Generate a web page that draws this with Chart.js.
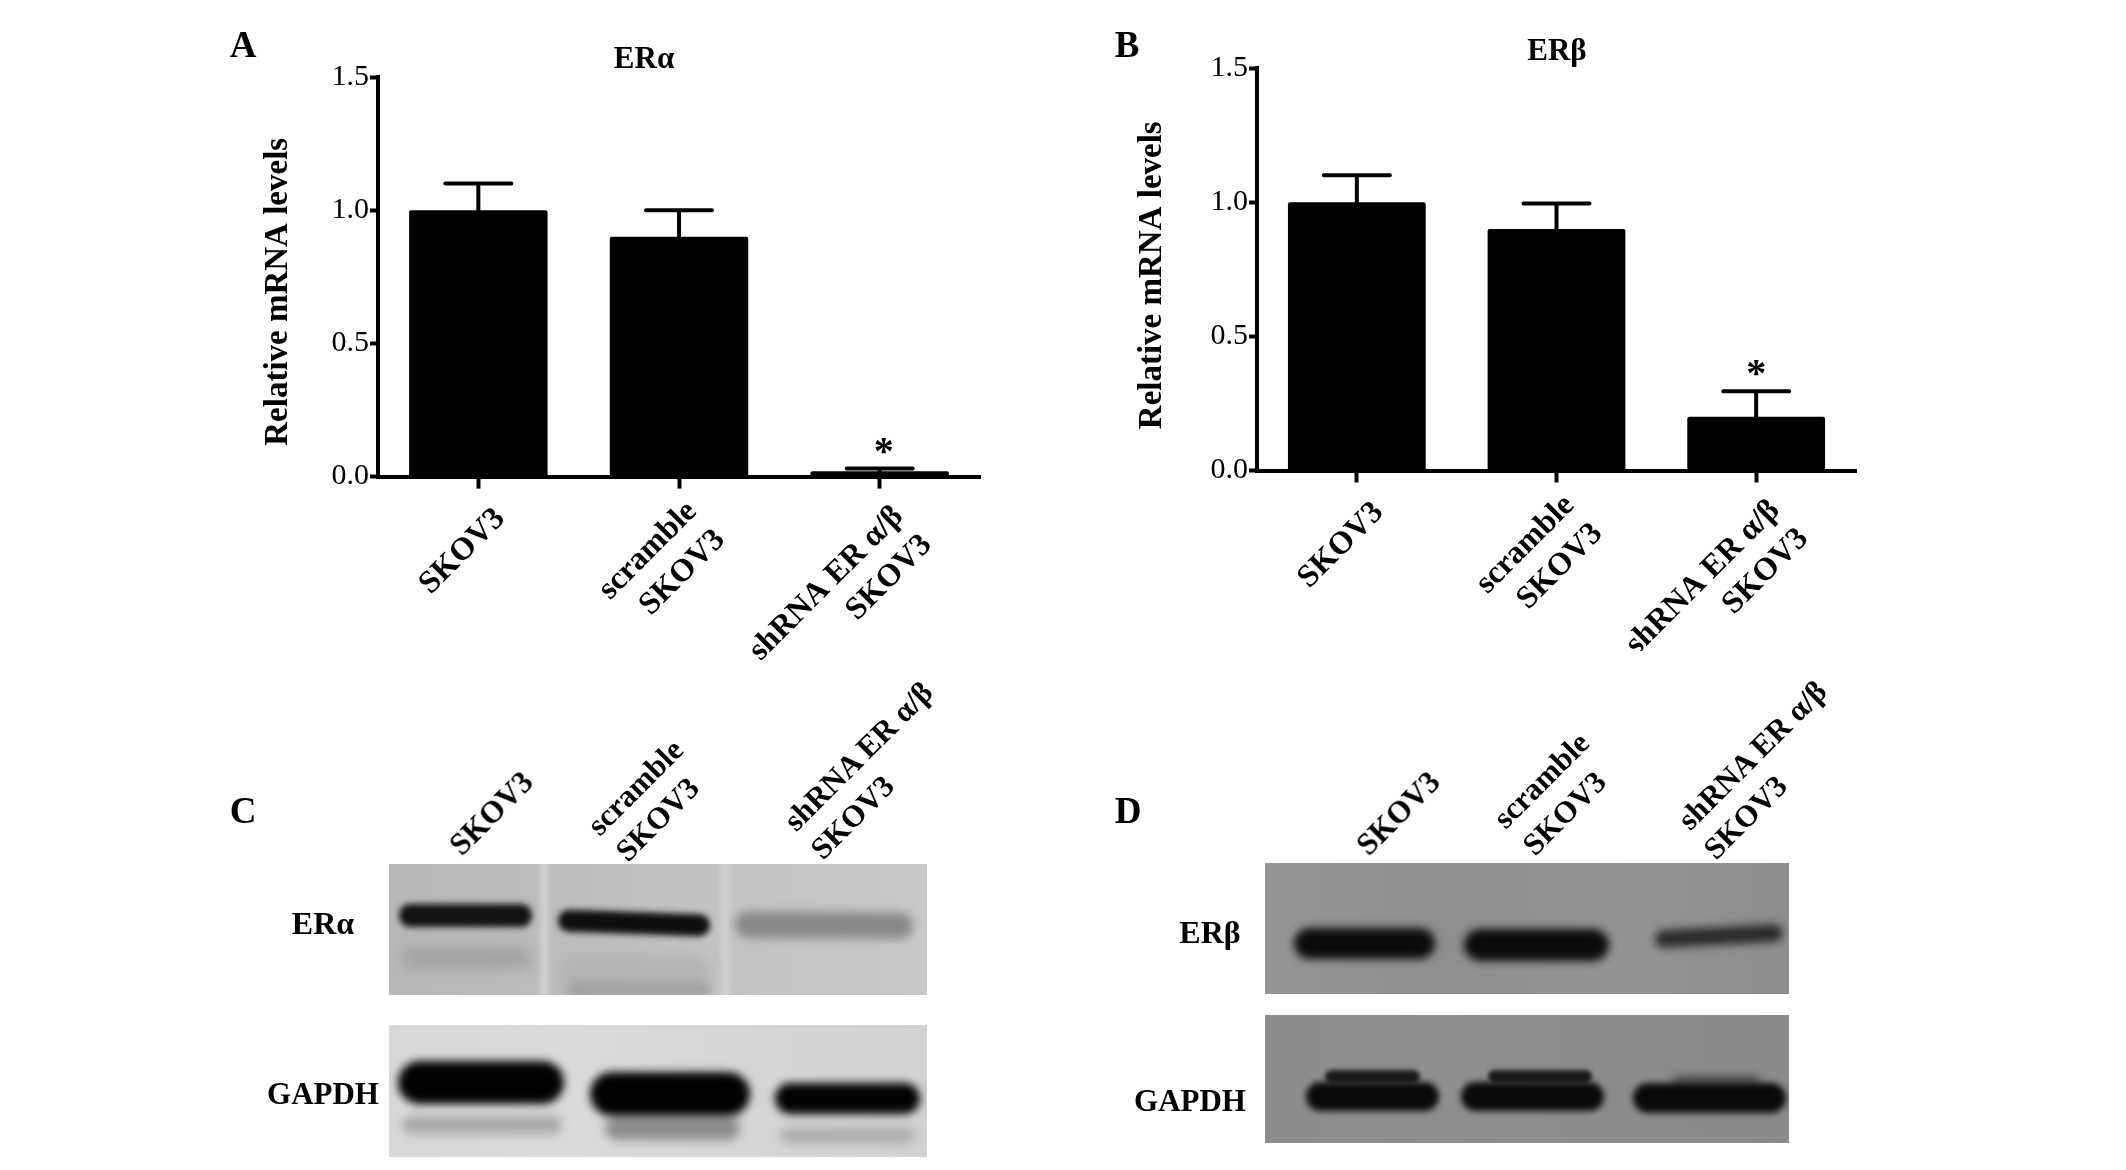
<!DOCTYPE html>
<html><head><meta charset="utf-8">
<script src="https://cdn.jsdelivr.net/npm/chart.js@4"></script>
<style>
html,body{margin:0;padding:0;background:#fff;width:2126px;height:1170px;overflow:hidden}
#page{position:relative;width:2126px;height:1170px;filter:blur(.55px)}
canvas{position:absolute;display:block}
.t{position:absolute;font-family:"Liberation Serif",serif;font-weight:bold;color:#000;white-space:nowrap;transform:translate(-50%,-50%);line-height:1}
.r{transform:translate(-50%,-50%) rotate(-45deg)}
</style></head><body>
<div id="page">
<canvas id="blots" width="2126" height="1170" style="left:0;top:0"></canvas>
<canvas id="chartA" style="left:240px;top:20px"></canvas>
<canvas id="chartB" style="left:1114px;top:11px"></canvas>
</div>
<script>
const categories=[["SKOV3"],["scramble","SKOV3"],["shRNA ER α/β","SKOV3"]];
const alphaValues=[1.0,0.9,0.02];
const alphaUpper=[1.1,1.0,0.03];
const alphaMarks=["","","*"];
const betaValues=[1.0,0.9,0.2];
const betaUpper=[1.1,0.995,0.295];
const betaMarks=["","","*"];
const yTickValues=[0,0.5,1.0,1.5];
const yAxisTitle="Relative mRNA levels";
const titleA="ERα", titleB="ERβ";

const SERIF='"Liberation Serif",serif';
const errorBars={id:'errorBars',afterDatasetsDraw(c,a,o){
  const x=c.scales.x,y=c.scales.y,g=c.ctx;g.save();g.strokeStyle='#000';g.fillStyle='#000';g.lineWidth=4;g.lineCap='round';
  o.upper.forEach((u,i)=>{const px=x.getPixelForValue(i),t=y.getPixelForValue(o.values[i]),e=y.getPixelForValue(u);
    g.beginPath();g.moveTo(px,t);g.lineTo(px,e);g.moveTo(px-33,e);g.lineTo(px+33,e);g.stroke();
    if(o.marks[i]){g.font='bold 40px '+SERIF;g.textAlign='center';g.textBaseline='alphabetic';g.fillText(o.marks[i],px+o.markDx,e-5);}
  });g.restore();}};
const nudgeLabels={id:'nudgeLabels',beforeDraw(c,a,o){
  const s=c.scales.x;if(s.$nudged)return;s.$nudged=true;
  s.getLabelItems().forEach((it,i)=>{it.options.translation[0]+=o.dx[i];it.options.translation[1]+=o.dy[i];});}};
function shiftTitle(dy){return s=>{if(s.$w)return;s.$w=1;const f=s.drawTitle;s.drawTitle=function(){const t=s.top,b=s.bottom;s.top+=dy;s.bottom+=dy;f.call(s);s.top=t;s.bottom=b;};};}

function make(id,w,h,pad,yw,xh,vals,upper,marks,titleDy,markDx){
  const cv=document.getElementById(id);cv.width=w;cv.height=h;cv.style.width=w+'px';cv.style.height=h+'px';
  new Chart(cv,{type:'bar',data:{labels:categories,datasets:[{data:vals,backgroundColor:'#000',borderColor:'#000',borderWidth:0,barPercentage:.69,categoryPercentage:1,borderRadius:2,borderSkipped:'bottom'}]},
    options:{responsive:false,animation:false,devicePixelRatio:1,layout:{padding:pad},
      plugins:{legend:{display:false},tooltip:{enabled:false},title:{display:false},
        errorBars:{values:vals,upper,marks,markDx},nudgeLabels:{dx:[22,13,19],dy:[9,2,7]}},
      scales:{
        x:{type:'category',afterFit:s=>{s.height=xh;},
          grid:{offset:false,drawOnChartArea:false,drawTicks:true,tickLength:12,tickWidth:4,tickColor:'#000'},
          border:{display:true,color:'#000',width:4},
          ticks:{color:'#000',autoSkip:false,minRotation:45,maxRotation:45,padding:2,font:{family:SERIF,size:32,weight:'bold',lineHeight:1.25}}},
        y:{min:0,max:1.5,afterFit:s=>{s.width=yw;},afterUpdate:shiftTitle(titleDy),
          afterBuildTicks:s=>{s.ticks=yTickValues.map(v=>({value:v}));},
          grid:{drawOnChartArea:false,drawTicks:true,tickLength:8,tickWidth:4,tickColor:'#000'},
          border:{display:true,color:'#000',width:4},
          title:{display:true,text:yAxisTitle,color:'#000',font:{family:SERIF,size:33,weight:'bold',lineHeight:1.2},padding:{top:19,bottom:0}},
          ticks:{color:'#000',padding:1,font:{family:SERIF,size:30},callback:v=>Number(v).toFixed(1)}}
      }},plugins:[errorBars,nudgeLabels]});
}
make('chartA',760,640,{top:57,right:20,left:0,bottom:0},138,183.4,alphaValues,alphaUpper,alphaMarks,15,4);
make('chartB',762,640,{top:57,right:20,left:0,bottom:0},143,180.5,betaValues,betaUpper,betaMarks,6,0);

/* text outside the two plots */
const page=document.getElementById('page');
function txt(s,x,y,size,rot){const d=document.createElement('div');d.className='t'+(rot?' r':'');d.textContent=s;d.style.left=x+'px';d.style.top=y+'px';d.style.fontSize=size+'px';page.appendChild(d);}
[["A",243,44,37],["B",1127,44,37],["C",243,810,37],["D",1128,810,37],
 [titleA,644,57,31],[titleB,1557,49,31],["ERα",323,923,32],["GAPDH",323,1093,31],["ERβ",1210,932,32],["GAPDH",1190,1100,31]]
 .forEach(a=>txt(...a,false));
[["SKOV3",491,813],["scramble",635,787],["SKOV3",657,819],["shRNA ER α/β",858,756],["SKOV3",852,817],
 ["SKOV3",1398,813],["scramble",1541,780],["SKOV3",1564,813],["shRNA ER α/β",1752,755],["SKOV3",1745,817]]
 .forEach(a=>txt(...a,31,true));

/* western-blot photographs, painted as soft patches */
const g=document.getElementById('blots').getContext('2d');
function blot(x,y,w,h,bg,patches){
  g.save();g.filter='blur(1px)';g.beginPath();g.rect(x,y,w,h);g.clip();
  const lg=g.createLinearGradient(x,0,x+w,0);bg.forEach((c,i)=>lg.addColorStop(i/(bg.length-1),c));
  g.filter='none';g.fillStyle=lg;g.fillRect(x,y,w,h);
  patches.forEach(([px,py,pw,ph,col,bl,tilt])=>{g.save();g.filter=`blur(${bl}px)`;g.fillStyle=col;
    g.translate(px+pw/2,py+ph/2);g.rotate((tilt||0)*Math.PI/180);g.beginPath();g.roundRect(-pw/2,-ph/2,pw,ph,Math.min(ph/2,pw/2));g.fill();g.restore();});
  g.restore();
}
blot(389,864,538,131,['#b8b8b8','#bcbcbc','#c4c4c4','#c8c8c8'],[
 [541,860,7,140,'#d6d6d6',3],[722,860,7,140,'#d4d4d4',3],
 [401,947,130,22,'#a4a4a4',6],[560,955,150,30,'#b4b4b4',6],[566,982,145,16,'#a2a2a2',4],
 [735,912,178,26,'#888888',5,0.3],
 [399,904,133,23,'#111',3],[558,912,152,22,'#0e0e0e',3,2]]);
blot(389,1025,538,132,['#d8d8d8','#dadada','#d6d6d6','#d2d2d2'],[
 [402,1116,160,18,'#aaaaaa',5],[605,1116,135,24,'#8e8e8e',5],[780,1127,135,17,'#b0b0b0',5],
 [398,1061,166,43,'#020202',4],[590,1072,160,44,'#020202',4],[775,1083,145,31,'#020202',4]]);
blot(1265,863,524,131,['#959595','#8f8f8f','#939393','#8e8e8e'],[
 [1294,928,141,31,'#0c0c0c',4],[1464,929,145,32,'#0c0c0c',4],[1655,927,128,18,'#2b2b2b',4,-3]]);
blot(1265,1015,524,128,['#8c8c8c','#8f8f8f','#8c8c8c','#8a8a8a'],[
 [1325,1070,95,13,'#1c1c1c',2],[1488,1070,104,13,'#1c1c1c',2],[1672,1075,88,12,'#555555',4],
 [1306,1082,133,29,'#0a0a0a',3],[1461,1082,143,29,'#0a0a0a',3],[1633,1083,153,30,'#0a0a0a',3]]);
</script>
</body></html>
